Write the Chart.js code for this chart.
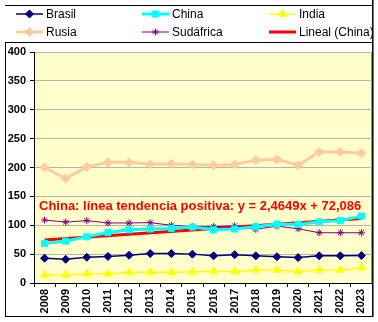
<!DOCTYPE html>
<html>
<head>
<meta charset="utf-8">
<script src="https://cdn.jsdelivr.net/npm/chart.js@4"></script>
<style>
  html,body{margin:0;padding:0;background:#fff;}
  #wrap{width:378px;height:322px;}
</style>
</head>
<body>
<div id="wrap"><canvas id="chart1" width="378" height="322"></canvas></div>
<script>
// data
const years = ["2008","2009","2010","2011","2012","2013","2014","2015","2016","2017","2018","2019","2020","2021","2022","2023"];
const brasil    = [43,41,44.5,46,48,51,51,50,47,49,47,45.5,44,47,47,47.5];
const china     = [68.5,72.5,80,87.5,92,93.5,94.5,97,92,93.5,97.5,102,101.5,106,108,116];
const india     = [14,14,16,16,18.5,18.5,18.5,19.5,20,20,22.5,22.5,20,22.5,22.5,26.5];
const rusia     = [200,181,201,209,209,205.5,206.5,205,204,205,213,214,204,227,227,224.5];
const sudafrica = [109,105.5,108,104,104,104.5,100,97.5,97.5,99,93,98.5,94,87,87,87];
// trend line: only the two end points are read, the rest is a straight span
const trendChina = [74.5,null,null,null,null,null,null,null,null,null,null,null,null,null,null,111.5];
const yTicks = [0,50,100,150,200,250,300,350,400];
const trendText = "China: línea tendencia positiva: y = 2,4649x + 72,086";

const fam = "Arial, 'Liberation Sans', sans-serif";

function ds(label,data,color,width,style,radius){
  return {label:label, data:data, borderColor:color, backgroundColor:color, borderWidth:width,
    pointStyle:style, pointRadius:radius, pointHoverRadius:radius, pointBorderWidth:1, tension:0};
}
let sets = [
  ds("Brasil",brasil,"#000080",1.5,"rectRot",4),
  ds("China",china,"#00FFFF",3,"rect",4.3),
  ds("India",india,"#FFFF00",1.5,"triangle",4.5),
  ds("Rusia",rusia,"#FFCC99",3,"rectRot",4.5),
  ds("Sudáfrica",sudafrica,"#800080",1,"star",3.5),
  ds("Lineal (China)",trendChina,"#FF0000",3,false,0)
];
sets[5].spanGaps = true;

// background, frame, legend and annotation
const deco = {
  id:"deco",
  beforeDraw(chart){
    const c = chart.ctx, a = chart.chartArea;
    c.save();
    c.fillStyle = "#fff"; c.fillRect(0,0,chart.width,chart.height);
    c.fillStyle = "#FFFFCC"; c.fillRect(a.left,a.top,a.right-a.left,a.bottom-a.top);
    c.strokeStyle = "#999"; c.lineWidth = 1;
    c.strokeRect(a.left+0.5,a.top+0.5,a.right-a.left-1,a.bottom-a.top);
    c.restore();
  },
  afterDraw(chart){
    const c = chart.ctx, a = chart.chartArea;
    c.save();
    // frame lines
    c.strokeStyle = "#000"; c.lineWidth = 1;
    c.beginPath();
    c.moveTo(5,5.5); c.lineTo(373,5.5);
    c.moveTo(5,42.5); c.lineTo(373,42.5);
    c.moveTo(5.5,42); c.lineTo(5.5,317);
    c.moveTo(5,316.5); c.lineTo(373,316.5);
    c.stroke();
    c.lineWidth = 1.5;
    c.beginPath(); c.moveTo(372.8,0); c.lineTo(372.8,317); c.stroke();
    // legend, three columns by two rows
    const colX = [16,142,269], rowY = [14,32];
    c.font = "12px "+fam; c.textBaseline = "middle"; c.fillStyle = "#000";
    for (let i=0;i<sets.length;++i){
      const d = sets[i];
      const x0 = colX[i%3], y0 = rowY[Math.floor(i/3)];
      c.strokeStyle = d.borderColor; c.lineWidth = d.borderWidth;
      c.beginPath(); c.moveTo(x0,y0); c.lineTo(x0+27,y0); c.stroke();
      if (d.pointStyle){
        c.lineWidth = 1; c.fillStyle = d.backgroundColor;
        Chart.helpers.drawPoint(c,{pointStyle:d.pointStyle,radius:d.pointRadius,borderWidth:1},x0+13.5,y0);
      }
      c.fillStyle = "#000";
      c.fillText(d.label,x0+30,y0+0.5);
    }
    // trend annotation
    c.font = "bold 13px "+fam; c.fillStyle = "#FF0000"; c.textBaseline = "middle";
    c.fillText(trendText, a.left+5, chart.scales.y.getPixelForValue(133));
    c.restore();
  }
};

new Chart(document.getElementById("chart1"), {
  type:"line",
  data:{ labels:years, datasets:sets },
  plugins:[deco],
  options:{
    responsive:false, animation:false,
    layout:{ padding:{ left:0, right:6, top:52, bottom:0 } },
    plugins:{ legend:{display:false}, tooltip:{enabled:false} },
    scales:{
      x:{
        offset:true,
        grid:{ display:true, drawOnChartArea:false, offset:true, tickLength:4, color:"#000" },
        border:{ color:"#000", width:1 },
        ticks:{ autoSkip:false, maxRotation:90, minRotation:90, padding:2, color:"#000", font:{family:fam, size:11, weight:"bold"} },
        afterFit(s){ s.height = 39; }
      },
      y:{
        min:0, max:400,
        afterBuildTicks(s){ s.ticks = yTicks.map(v=>({value:v})); },
        grid:{ color:"#b4b4b4", tickColor:"#000", tickLength:4 },
        border:{ color:"#000", width:1 },
        ticks:{ padding:4, color:"#000", font:{family:fam, size:11, weight:"bold"} },
        afterFit(s){ s.width = 34; }
      }
    }
  }
});
</script>
</body>
</html>
